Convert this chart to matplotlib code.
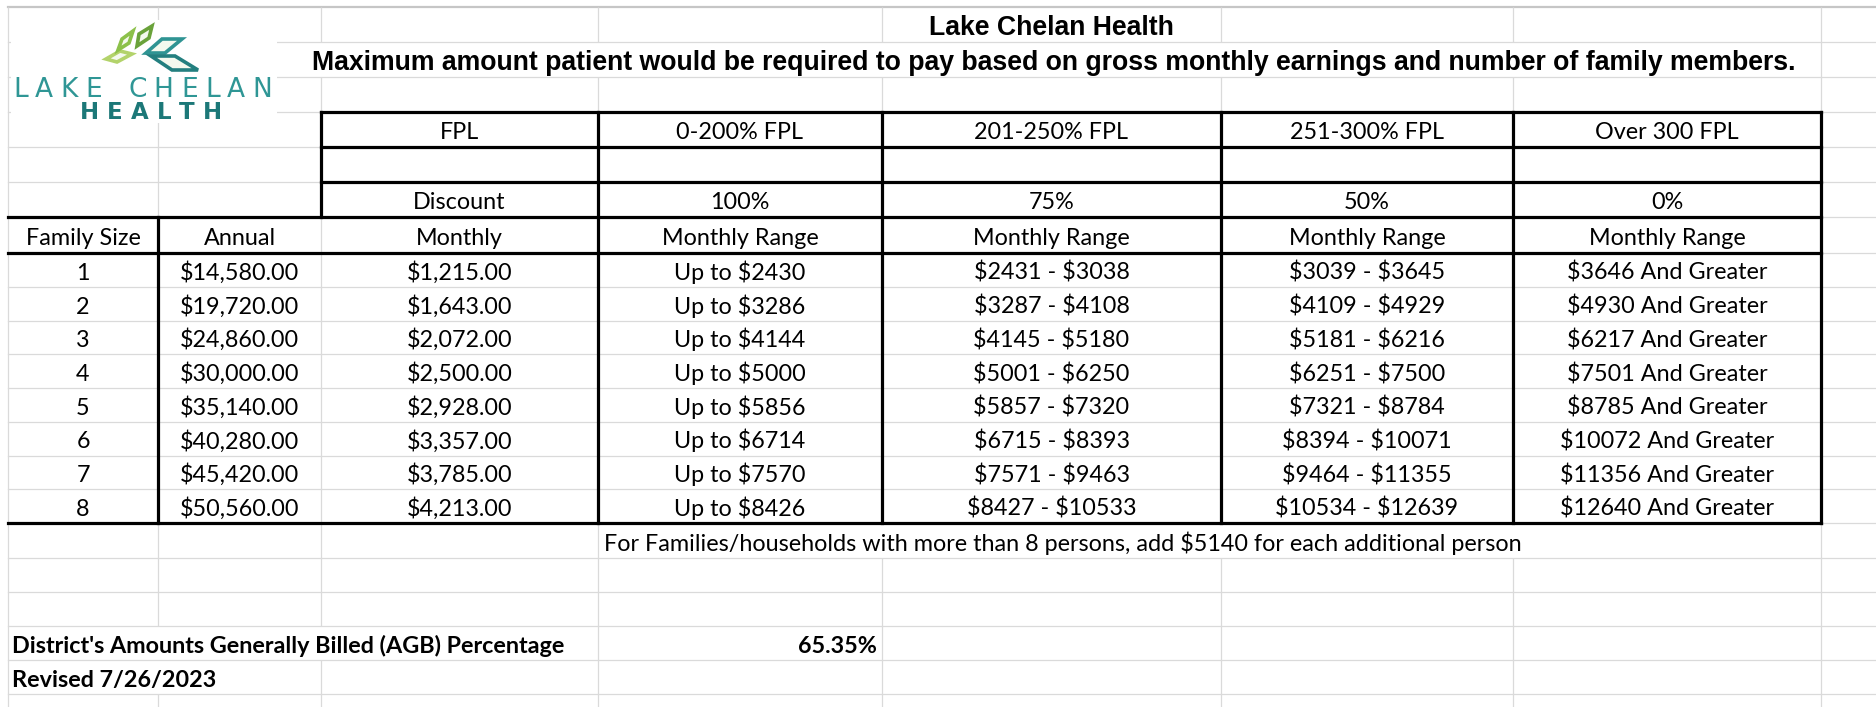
import matplotlib
matplotlib.use("Agg")
import matplotlib.pyplot as plt
from matplotlib.patches import Polygon, Rectangle

# ---------------- data ----------------
title = "Lake Chelan Health"
subtitle = ("Maximum amount patient would be required to pay based on gross "
            "monthly earnings and number of family members.")
fpl_bands = ["FPL", "0-200% FPL", "201-250% FPL", "251-300% FPL", "Over 300 FPL"]
discounts = ["Discount", "100%", "75%", "50%", "0%"]
headers = ["Family Size", "Annual", "Monthly", "Monthly Range", "Monthly Range",
           "Monthly Range", "Monthly Range"]
family_size = [1, 2, 3, 4, 5, 6, 7, 8]
annual = [14580, 19720, 24860, 30000, 35140, 40280, 45420, 50560]
monthly = [1215, 1643, 2072, 2500, 2928, 3357, 3785, 4213]
up_to_200 = [2430, 3286, 4144, 5000, 5856, 6714, 7570, 8426]
lo_201 = [2431, 3287, 4145, 5001, 5857, 6715, 7571, 8427]
hi_250 = [3038, 4108, 5180, 6250, 7320, 8393, 9463, 10533]
lo_251 = [3039, 4109, 5181, 6251, 7321, 8394, 9464, 10534]
hi_300 = [3645, 4929, 6216, 7500, 8784, 10071, 11355, 12639]
over_300 = [3646, 4930, 6217, 7501, 8785, 10072, 11356, 12640]
note = "For Families/households with more than 8 persons, add $5140 for each additional person"
agb_label = "District's Amounts Generally Billed (AGB) Percentage"
agb_value = "65.35%"
revised = "Revised 7/26/2023"
logo_line1 = "LAKE CHELAN"
logo_line2 = "HEALTH"

# ---------------- layout ----------------
W, H = 1876, 707
fig = plt.figure(figsize=(W / 100, H / 100), dpi=100)
ax = fig.add_axes([0, 0, 1, 1])
ax.set_xlim(0, W)
ax.set_ylim(H, 0)
ax.axis("off")

col_x = [8, 158, 321, 598, 882, 1221, 1513, 1821, 1876]
data_top, data_bot = 253, 523
n = len(family_size)
data_rows = [data_top + (data_bot - data_top) * k / n for k in range(n + 1)]
row_y = [7, 42, 77, 112, 147, 182, 217] + data_rows + [558, 592, 626, 660, 694, 707]

GRID = "#dadada"
CELL_FONT = ["Lato", "DejaVu Sans"]
FS = 16.8

# gridlines
hidden = {(1, c) for c in (2, 3, 4, 5, 6)} | {(15, c) for c in (4, 5, 6)} | \
         {(18, 1), (18, 2), (19, 1)}
for y in row_y[1:-1]:
    ax.plot([col_x[0], W], [y, y], color=GRID, lw=0.9, zorder=1)
ax.plot([col_x[0], W], [row_y[0], row_y[0]], color="#c6c6c6", lw=1.6, zorder=1)
for ci in range(8):
    for ri in range(len(row_y) - 1):
        if (ri, ci) in hidden:
            continue
        ax.plot([col_x[ci], col_x[ci]], [row_y[ri], row_y[ri + 1]],
                color=GRID, lw=0.9, zorder=1, solid_capstyle="butt")

# logo area (white background)
ax.add_patch(Rectangle((11, 20), 266, 103, facecolor="white", edgecolor="none", zorder=2))
leaves = [
    ([(106, 59), (120, 51), (132, 54), (117, 62)], "#b3d36b"),
    ([(118, 50), (122, 39), (133, 31), (129, 43)], "#8cc14a"),
    ([(137, 46), (139, 34), (152, 26), (149, 38)], "#6aa23a"),
    ([(146, 53), (162, 39), (182, 39), (165, 53)], "#2f9493"),
    ([(151, 56), (175, 56), (198, 70), (172, 70)], "#237f7f"),
]
for pts, ec in leaves:
    ax.add_patch(Polygon(pts, closed=True, facecolor="#f4f9ee", edgecolor=ec,
                         lw=2.6, joinstyle="miter", zorder=3))

renderer = fig.canvas.get_renderer()


def tracked(text, x0, x1, y, **kw):
    """letter-spaced logo text: words placed with extra tracking across [x0, x1]."""
    chars = [c for c in text if c != " "]
    arts, widths = [], []
    for ch in chars:
        t = ax.text(0, y, ch, ha="left", va="baseline", zorder=4, **kw)
        widths.append(t.get_window_extent(renderer).width)
        arts.append(t)
    space = 12 if " " in text else 0
    gap = (x1 - x0 - sum(widths) - space) / max(len(text) - 1, 1)
    x = x0
    k = 0
    for ch in text:
        if ch == " ":
            x += space + gap
            continue
        arts[k].set_x(x)
        x += widths[k] + gap
        k += 1


tracked(logo_line1, 13, 272, 97, fontsize=19, color="#2f9695",
        family=["DejaVu Sans"])
tracked(logo_line2, 80, 222, 119, fontsize=16.5, color="#1c7878",
        family=["DejaVu Sans"], fontweight="bold")

# thick borders
BK = dict(color="black", lw=2.3, zorder=5, solid_capstyle="projecting")
for y in (112, 147, 182):
    ax.plot([col_x[2], col_x[7]], [y, y], **BK)
for y in (217, 253, 523):
    ax.plot([col_x[0], col_x[7]], [y, y], **BK)
ax.plot([col_x[2], col_x[2]], [112, 217], **BK)
for ci in (3, 4, 5, 6, 7):
    ax.plot([col_x[ci], col_x[ci]], [112, 523], **BK)
ax.plot([col_x[1], col_x[1]], [217, 523], **BK)

# title
TF = ["Liberation Sans", "DejaVu Sans"]
ax.text((col_x[4] + col_x[5]) / 2, 35, title, ha="center", va="baseline",
        fontsize=19.2, fontweight="bold", family=TF, zorder=6, parse_math=False)
ax.text(1054, 70, subtitle, ha="center", va="baseline",
        fontsize=19.2, fontweight="bold", family=TF, zorder=6, parse_math=False)


def center_text(ci, yb, s, **kw):
    ax.text((col_x[ci] + col_x[ci + 1]) / 2, yb, s, ha="center", va="baseline",
            fontsize=FS, family=CELL_FONT, zorder=6, parse_math=False, **kw)


for k, (b, d) in enumerate(zip(fpl_bands, discounts)):
    center_text(2 + k, 147 - 8, b)
    center_text(2 + k, 217 - 8, d)
for k, h in enumerate(headers):
    center_text(k, 253 - 8, h)

for i in range(n):
    yb = data_rows[i + 1] - 7
    cells = [
        f"{family_size[i]}",
        f"${annual[i]:,.2f}",
        f"${monthly[i]:,.2f}",
        f"Up to ${up_to_200[i]}",
        f"${lo_201[i]} - ${hi_250[i]}",
        f"${lo_251[i]} - ${hi_300[i]}",
        f"${over_300[i]} And Greater",
    ]
    for ci, s in enumerate(cells):
        center_text(ci, yb, s)

ax.text(col_x[3] + 6, 558 - 7, note, ha="left", va="baseline",
        fontsize=FS, family=CELL_FONT, zorder=6, parse_math=False)
ax.text(12, 660 - 7, agb_label, ha="left", va="baseline", fontsize=FS,
        fontweight="bold", family=CELL_FONT, zorder=6, parse_math=False)
ax.text(col_x[4] - 5, 660 - 7, agb_value, ha="right", va="baseline", fontsize=FS,
        fontweight="bold", family=CELL_FONT, zorder=6, parse_math=False)
ax.text(12, 694 - 7, revised, ha="left", va="baseline", fontsize=FS,
        fontweight="bold", family=CELL_FONT, zorder=6, parse_math=False)

fig.savefig("out.png", dpi=100, facecolor="white")
